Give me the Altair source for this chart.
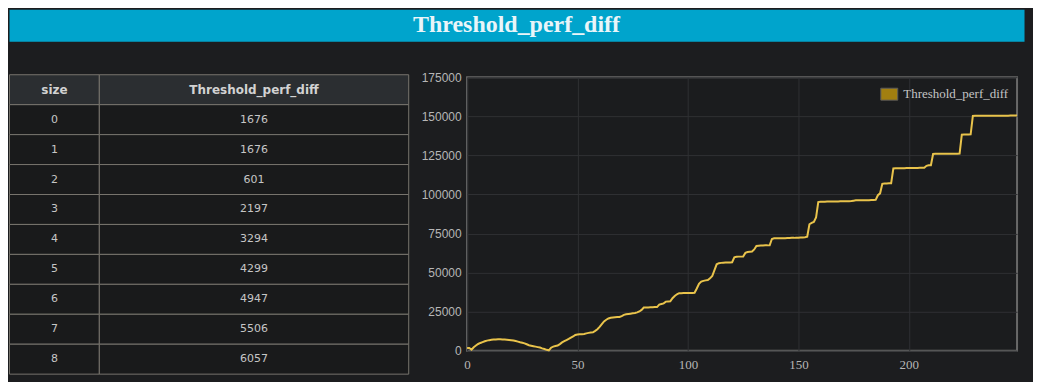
import altair as alt
import pandas as pd

# ---------------- data ----------------
title_text = "Threshold_perf_diff"
series_name = "Threshold_perf_diff"
table_columns = ["size", "Threshold_perf_diff"]
table_row_count = 9

values = [
    1676, 1676, 601, 2197, 3294, 4299, 4947, 5506, 6057, 6450,
    6750, 6950, 7100, 7200, 7250, 7250, 7200, 7100, 7000, 6850,
    6700, 6500, 6150, 5800, 5400, 5100, 4700, 4100, 3500, 3200,
    2900, 2600, 2300, 2000, 1500, 1050, 550, 250, 1900, 2600,
    3000, 3300, 4200, 5300, 6100, 6800, 7500, 8300, 9100, 10100,
    10400, 10500, 10600, 10700, 11100, 11400, 11600, 11800, 12700, 13700,
    15200, 17000, 18700, 19800, 20600, 21100, 21300, 21400, 21500, 21600,
    22100, 22900, 23300, 23500, 23700, 23900, 24100, 24500, 25100, 26100,
    27600, 27700, 27700, 27800, 27800, 27900, 27900, 29500, 29900, 30300,
    31400, 31500, 31600, 33600, 35000, 36100, 36800, 36800, 36900, 36900,
    36900, 37000, 37000, 37100, 39800, 42800, 44200, 44700, 45000, 45200,
    46300, 47800, 51500, 55300, 56000, 56200, 56300, 56400, 56400, 56500,
    56600, 59800, 60100, 60200, 60200, 60300, 62600, 63100, 63300, 63500,
    64800, 67000, 67200, 67300, 67300, 67400, 67400, 67500, 71500, 71900,
    71900, 72000, 72000, 72000, 72000, 72100, 72100, 72200, 72200, 72300,
    72300, 72400, 72500, 72600, 72900, 80900, 81800, 82400, 85200, 95100,
    95300, 95300, 95300, 95400, 95400, 95400, 95500, 95500, 95500, 95600,
    95600, 95600, 95700, 95700, 95800, 96000, 96200, 96200, 96200, 96200,
    96300, 96300, 96300, 96400, 96400, 96500, 99500, 100700, 106800, 107000,
    107000, 107100, 107100, 116600, 116800, 116800, 116800, 116800, 116800, 116900,
    116900, 116900, 116900, 116900, 116900, 117000, 117000, 117100, 118300, 118600,
    118700, 125900, 126000, 126000, 126000, 126000, 126000, 126000, 126100, 126100,
    126100, 126100, 126100, 126200, 138200, 138400, 138400, 138400, 138500, 150200,
    150300, 150300, 150300, 150300, 150300, 150300, 150300, 150300, 150300, 150400,
    150400, 150400, 150400, 150400, 150400, 150400, 150500, 150500, 150500, 150500,
]

x_ticks = [0, 50, 100, 150, 200]
y_ticks = [0, 25000, 50000, 75000, 100000, 125000, 150000, 175000]

# ---------------- styles ----------------
BG = "#1c1d1f"
BANNER = "#00a4cc"
BANNER_TEXT = "#e9f5f9"
HEADER_BG = "#2b2e31"
CELL_BG = "#191a1b"
BORDER = "#77746d"
HEAD_TEXT = "#d2d2d2"
BODY_TEXT = "#c6c6c6"
PLOT_BG = "#1b1c1e"
FRAME = "#686868"
GRID = "#2f3033"
LABEL = "#b6b6b6"
LINE = "#e9c34b"
LEGEND_FILL = "#a27f10"

# ---------------- tables ----------------
idx = list(range(len(values)))
line_df = pd.DataFrame({"idx": idx, "value": values, "series": series_name})

rows = []
for c in table_columns:
    rows.append({"row": 0, "col": c, "text": c})
for i in range(table_row_count):
    rows.append({"row": i + 1, "col": table_columns[0], "text": str(idx[i])})
    rows.append({"row": i + 1, "col": table_columns[1], "text": str(values[i])})
table_df = pd.DataFrame(rows)

y_row = alt.Y(
    "row:O",
    axis=None,
    scale=alt.Scale(range=[-2.5, 297.5], paddingInner=0, paddingOuter=0),
)


def column_layer(col_name, x_range):
    base = alt.Chart(table_df).transform_filter(alt.datum.col == col_name)
    x = alt.X(
        "col:N",
        axis=None,
        scale=alt.Scale(range=x_range, paddingInner=0, paddingOuter=0),
    )
    cells = base.mark_rect(stroke=BORDER, strokeWidth=1).encode(
        x=x,
        y=y_row,
        fill=alt.condition(alt.datum.row == 0, alt.value(HEADER_BG), alt.value(CELL_BG)),
    )
    head = (
        base.transform_filter(alt.datum.row == 0)
        .mark_text(font="DejaVu Sans", fontSize=12, fontWeight="bold", color=HEAD_TEXT)
        .encode(x=x, y=y_row, text="text:N")
    )
    body = (
        base.transform_filter(alt.datum.row > 0)
        .mark_text(font="DejaVu Sans", fontSize=11, color=BODY_TEXT)
        .encode(x=x, y=y_row, text="text:N")
    )
    return alt.layer(cells, head, body)


table = (
    alt.layer(
        column_layer(table_columns[0], [0.5, 90.5]),
        column_layer(table_columns[1], [90.5, 400.5]),
    )
    .resolve_scale(x="independent")
    .properties(width=400, height=297, view=alt.ViewBackground(stroke="transparent"))
)

# ---------------- line chart ----------------
x_enc = alt.X(
    "idx:Q",
    scale=alt.Scale(domain=[0, len(values) - 1], nice=False),
    axis=alt.Axis(
        values=x_ticks, title=None, grid=True, gridColor=GRID, gridWidth=1,
        domain=False, ticks=False, tickSize=0, labelFlush=False,
        labelOverlap=False,
        labelFont="Liberation Serif", labelFontSize=13, labelColor=LABEL,
        labelPadding=8,
    ),
)
y_enc = alt.Y(
    "value:Q",
    scale=alt.Scale(domain=[0, 175000], nice=False),
    axis=alt.Axis(
        values=y_ticks, format="d", title=None, grid=True, gridColor=GRID,
        gridWidth=1, domain=False, ticks=False, tickSize=0,
        labelOverlap=False, labelFlush=False,
        labelFont="Liberation Sans", labelFontSize=12, labelColor=LABEL,
        labelPadding=6,
    ),
)

line = alt.Chart(line_df).mark_line(color=LINE, strokeWidth=2).encode(x=x_enc, y=y_enc)

legend_layer = (
    alt.Chart(line_df)
    .transform_filter("false")
    .mark_point(filled=True, opacity=1)
    .encode(
        x=x_enc,
        y=y_enc,
        fill=alt.Fill(
            "series:N",
            scale=alt.Scale(domain=[series_name], range=[LEGEND_FILL]),
            legend=alt.Legend(
                orient="top-right", title=None, offset=8, padding=0,
                symbolType="M-1,-0.706H1V0.706H-1Z", symbolSize=289,
                symbolStrokeColor="#5a5a5a", symbolStrokeWidth=1,
                symbolOpacity=1,
                labelFont="Liberation Serif", labelFontSize=13,
                labelColor="#c4c4c4", labelOffset=5,
            ),
        ),
    )
)

plot = alt.layer(line, legend_layer).properties(
    width=551,
    height=274,
    view=alt.ViewBackground(fill=PLOT_BG, stroke=FRAME, strokeWidth=2),
)

row = (
    alt.hconcat(table, plot, spacing=59, bounds="flush")
    .resolve_scale(fill="independent")
    .resolve_legend(fill="independent")
)

# ---------------- banner ----------------
banner = (
    alt.Chart(pd.DataFrame({"t": [title_text]}))
    .mark_text(font="Liberation Serif", fontSize=24, fontWeight="bold", color=BANNER_TEXT)
    .encode(text="t:N")
    .properties(width=1017, height=32,
                view=alt.ViewBackground(fill=BANNER, stroke="transparent"))
)

chart = (
    alt.vconcat(banner, row, spacing=36, bounds="flush")
    .resolve_scale(fill="independent")
    .resolve_legend(fill="independent")
    .properties(padding={"left": 0, "top": 0, "right": 8, "bottom": 6}, background=BG)
    .configure_view(stroke="transparent")
)

chart.save("out.html", embed_options={"renderer": "svg", "actions": False})
